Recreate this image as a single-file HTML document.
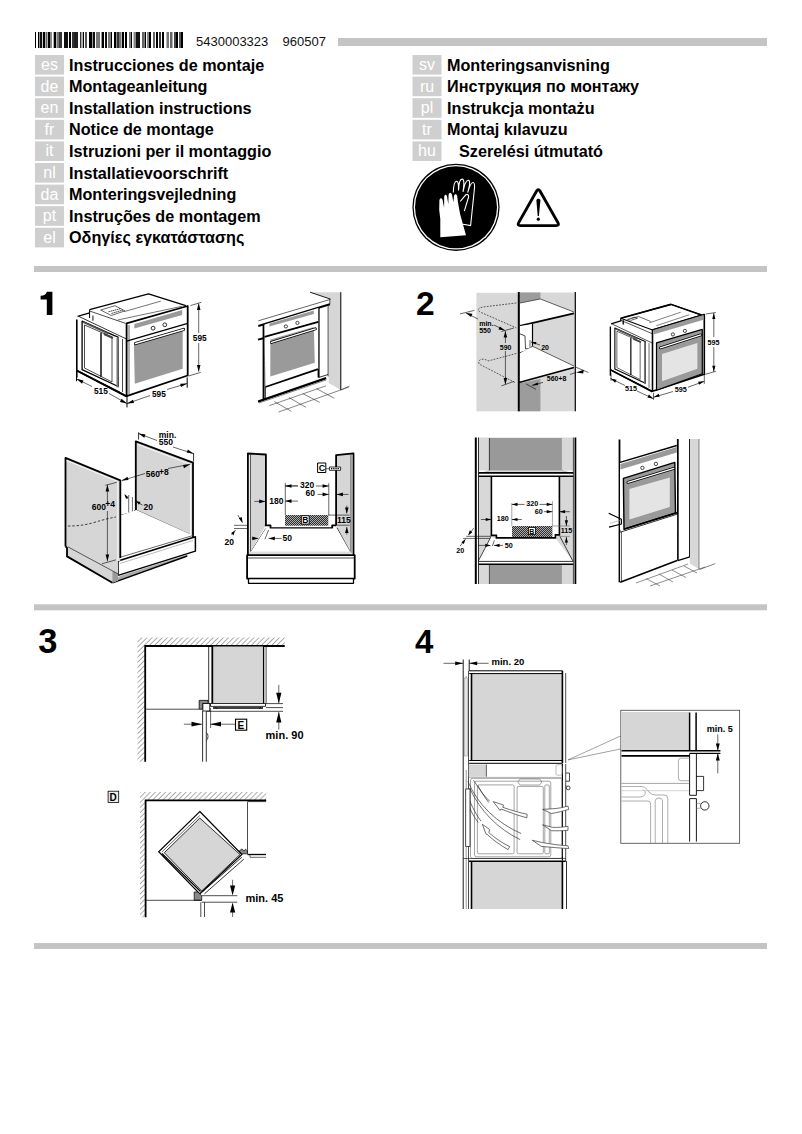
<!DOCTYPE html>
<html><head><meta charset="utf-8"><style>
html,body{margin:0;padding:0;background:#fff;width:802px;height:1134px;overflow:hidden}
svg{display:block} circle{shape-rendering:geometricPrecision}
text{font-family:"Liberation Sans",sans-serif}
.b{font-weight:bold}
</style></head><body>
<svg width="802" height="1134" viewBox="0 0 802 1134">
<defs><pattern id="hatch" width="2" height="2" patternUnits="userSpaceOnUse"><rect width="2" height="2" fill="#aaa"/><path d="M0 2 L2 0 M-0.5 0.5 L0.5 -0.5 M1.5 2.5 L2.5 1.5" stroke="#222" stroke-width="0.9"/></pattern></defs>
<!-- header -->
<rect x="35" y="32" width="1" height="16" fill="#000"/><rect x="38" y="32" width="1.3" height="16" fill="#000"/><rect x="39.8" y="32" width="2.2" height="16" fill="#111"/><rect x="42.8" y="32" width="2.2" height="16" fill="#000"/><rect x="45.5" y="32" width="2.0" height="16" fill="#666"/><rect x="48" y="32" width="2" height="16" fill="#000"/><rect x="50" y="32" width="2" height="16" fill="#888"/><rect x="53.7" y="32" width="2.3" height="16" fill="#000"/><rect x="56.5" y="32" width="2.5" height="16" fill="#777"/><rect x="59" y="32" width="3" height="16" fill="#333"/><rect x="64" y="32" width="4" height="16" fill="#111"/><rect x="69" y="32" width="2" height="16" fill="#000"/><rect x="72" y="32" width="2" height="16" fill="#333"/><rect x="74" y="32" width="4" height="16" fill="#222"/><rect x="80" y="32" width="1.4" height="16" fill="#333"/><rect x="82.7" y="32" width="1.3" height="16" fill="#000"/><rect x="85" y="32" width="2" height="16" fill="#555"/><rect x="89" y="32" width="3" height="16" fill="#000"/><rect x="92.6" y="32" width="2.4" height="16" fill="#111"/><rect x="96" y="32" width="4" height="16" fill="#777"/><rect x="101.6" y="32" width="2.4" height="16" fill="#000"/><rect x="105" y="32" width="2" height="16" fill="#111"/><rect x="108" y="32" width="2" height="16" fill="#777"/><rect x="110.5" y="32" width="1.5" height="16" fill="#000"/><rect x="114" y="32" width="2" height="16" fill="#000"/><rect x="116.5" y="32" width="2.5" height="16" fill="#333"/><rect x="119" y="32" width="2.5" height="16" fill="#777"/><rect x="122" y="32" width="2" height="16" fill="#000"/><rect x="125" y="32" width="2" height="16" fill="#000"/><rect x="129" y="32" width="1" height="16" fill="#777"/><rect x="130.5" y="32" width="1.5" height="16" fill="#000"/><rect x="133.5" y="32" width="2.5" height="16" fill="#888"/><rect x="136" y="32" width="4" height="16" fill="#111"/><rect x="142" y="32" width="2" height="16" fill="#666"/><rect x="144.5" y="32" width="1.5" height="16" fill="#000"/><rect x="147" y="32" width="2" height="16" fill="#888"/><rect x="149" y="32" width="2" height="16" fill="#000"/><rect x="153" y="32" width="2" height="16" fill="#666"/><rect x="156" y="32" width="2" height="16" fill="#000"/><rect x="159" y="32" width="2" height="16" fill="#333"/><rect x="162" y="32" width="2" height="16" fill="#000"/><rect x="166.5" y="32" width="2.5" height="16" fill="#777"/><rect x="170" y="32" width="2.5" height="16" fill="#666"/><rect x="174" y="32" width="2" height="16" fill="#444"/><rect x="176" y="32" width="2" height="16" fill="#000"/><rect x="179" y="32" width="2" height="16" fill="#555"/><rect x="181" y="32" width="2" height="16" fill="#000"/>

<text x="196" y="45.5" font-size="13" fill="#111">5430003323</text>
<text x="282.5" y="45.5" font-size="13" fill="#111">960507</text>
<rect x="338" y="38" width="429" height="8" fill="#c4c4c4"/>
<rect x="35" y="55.0" width="29" height="19.6" fill="#cfcfcf"/>
<text x="49.5" y="70.0" font-size="16" fill="#fff" text-anchor="middle">es</text>
<text class="b" x="69" y="70.6" font-size="16.2">Instrucciones de montaje</text>
<rect x="35" y="76.6" width="29" height="19.6" fill="#cfcfcf"/>
<text x="49.5" y="91.6" font-size="16" fill="#fff" text-anchor="middle">de</text>
<text class="b" x="69" y="92.2" font-size="16.2">Montageanleitung</text>
<rect x="35" y="98.2" width="29" height="19.6" fill="#cfcfcf"/>
<text x="49.5" y="113.2" font-size="16" fill="#fff" text-anchor="middle">en</text>
<text class="b" x="69" y="113.8" font-size="16.2">Installation instructions</text>
<rect x="35" y="119.8" width="29" height="19.6" fill="#cfcfcf"/>
<text x="49.5" y="134.8" font-size="16" fill="#fff" text-anchor="middle">fr</text>
<text class="b" x="69" y="135.4" font-size="16.2">Notice de montage</text>
<rect x="35" y="141.4" width="29" height="19.6" fill="#cfcfcf"/>
<text x="49.5" y="156.4" font-size="16" fill="#fff" text-anchor="middle">it</text>
<text class="b" x="69" y="157.0" font-size="16.2">Istruzioni per il montaggio</text>
<rect x="35" y="163.0" width="29" height="19.6" fill="#cfcfcf"/>
<text x="49.5" y="178.0" font-size="16" fill="#fff" text-anchor="middle">nl</text>
<text class="b" x="69" y="178.6" font-size="16.2">Installatievoorschrift</text>
<rect x="35" y="184.6" width="29" height="19.6" fill="#cfcfcf"/>
<text x="49.5" y="199.6" font-size="16" fill="#fff" text-anchor="middle">da</text>
<text class="b" x="69" y="200.2" font-size="16.2">Monteringsvejledning</text>
<rect x="35" y="206.2" width="29" height="19.6" fill="#cfcfcf"/>
<text x="49.5" y="221.2" font-size="16" fill="#fff" text-anchor="middle">pt</text>
<text class="b" x="69" y="221.8" font-size="16.2">Instruções de montagem</text>
<rect x="35" y="227.8" width="29" height="19.6" fill="#cfcfcf"/>
<text x="49.5" y="242.8" font-size="16" fill="#fff" text-anchor="middle">el</text>
<text class="b" x="69" y="243.4" font-size="16.2">Οδηγίες εγκατάστασης</text>
<rect x="412.5" y="55.0" width="29" height="19.6" fill="#cfcfcf"/>
<text x="427" y="70.0" font-size="16" fill="#fff" text-anchor="middle">sv</text>
<text class="b" x="447" y="70.6" font-size="16.2">Monteringsanvisning</text>
<rect x="412.5" y="76.6" width="29" height="19.6" fill="#cfcfcf"/>
<text x="427" y="91.6" font-size="16" fill="#fff" text-anchor="middle">ru</text>
<text class="b" x="447" y="92.2" font-size="16.2">Инструкция по монтажу</text>
<rect x="412.5" y="98.2" width="29" height="19.6" fill="#cfcfcf"/>
<text x="427" y="113.2" font-size="16" fill="#fff" text-anchor="middle">pl</text>
<text class="b" x="447" y="113.8" font-size="16.2">Instrukcja montażu</text>
<rect x="412.5" y="119.8" width="29" height="19.6" fill="#cfcfcf"/>
<text x="427" y="134.8" font-size="16" fill="#fff" text-anchor="middle">tr</text>
<text class="b" x="447" y="135.4" font-size="16.2">Montaj kılavuzu</text>
<rect x="412.5" y="141.4" width="29" height="19.6" fill="#cfcfcf"/>
<text x="427" y="156.4" font-size="16" fill="#fff" text-anchor="middle">hu</text>
<text class="b" x="459" y="157.0" font-size="16.2">Szerelési útmutató</text>
<circle cx="456" cy="207.3" r="43.6" fill="#000"/>
<circle cx="456" cy="207.3" r="42.3" fill="#fff"/>
<circle cx="456" cy="207.3" r="41.0" fill="#000"/>
<g id="glove">
<path d="M453.3 192.6 C453.5 186 454.5 181.5 456.5 181.3 C458.3 181.2 458.6 184 458.5 190.5 C458.8 183 460 179 462.2 179.1 C464.2 179.2 464.3 183 463 191.9 C464.5 184 466.3 180 468.4 180.2 C470.3 180.5 470 184 467.7 192.6 C469.5 186 471.5 182.3 473.2 182.5 C475 182.8 474.8 186 474.3 190 L470.6 225.5 L462.9 224.3" fill="none" stroke="#fff" stroke-width="1.1"/>
<path d="M460.2 201.5 L465.8 194.8 C467.5 193.8 469 195 468.6 197 L464.3 211.1" fill="none" stroke="#fff" stroke-width="1.1"/>
<path d="M440.3 237.2 L466 235.2 L460.2 214.5 L458.1 202.9 L457.2 196 C456.6 193.5 454.5 193.6 454 196 L453.4 202.2 L452 194.8 C451.2 191.8 449 192 448.6 195 L448.3 204.2 L447 196.5 C446.5 194 444.5 194 444.2 197 L444.1 207.7 L442.6 200 C442 197.6 439.8 197.5 439.4 200.5 L439.2 210 L440.3 219 Z" fill="#fff"/>
</g>
<path d="M539.98 191.06 L557.92 222.64 Q559.60 225.60 556.20 225.60 L520.40 225.60 Q517.00 225.60 518.68 222.64 L536.62 191.06 Q538.30 188.10 539.98 191.06 Z" fill="none" stroke="#000" stroke-width="2.9"/><path d="M536.4 200.5 C536.4 198 540.4 198 540.4 200.5 L538.9 216 L537.7 216 Z" fill="#000"/><circle cx="538.3" cy="219.2" r="1.6"/>
<rect x="34" y="266" width="733" height="6" fill="#c4c4c4"/>
<rect x="34" y="604.3" width="733" height="6" fill="#c4c4c4"/>
<rect x="34" y="943" width="733" height="6" fill="#c4c4c4"/>
<path d="M46.8 291.8 L52.4 291.8 L52.4 314.9 L46.8 314.9 L46.8 299.6 L40.6 299.6 L40.6 295.8 C44 295.6 46.2 294.6 46.8 291.8 Z" fill="#000"/>
<text class="b" x="416" y="315.2" font-size="33.5">2</text>
<text class="b" x="38.3" y="653" font-size="34.5">3</text>
<text class="b" x="415" y="653" font-size="33">4</text><!-- s1a -->
<g id="oven1" stroke="#000" fill="none" stroke-linejoin="round">
<!-- top face -->
<path d="M89.1 309.7 L148.4 293.2 L185.5 305.7 L126.6 323.4 L89.1 312 Z" fill="#fff" stroke="none"/>
<path d="M89.6 309.6 L148.5 293.9 L185.8 305.7" stroke-width="1.3"/>
<path d="M89.6 311 L125.6 323.4" stroke-width="0.7"/>
<path d="M100.7 310 L115 305.7 L124.9 310.9 L111.2 315.5 Z" stroke-width="0.6"/>
<path d="M108.5 311.8 L121 308.5 M111.5 313.5 L123 310" stroke-width="0.8" stroke-dasharray="1.4 0.7"/>
<path d="M124.3 311.6 L160.9 301.1 M117.7 320 L181.9 306.3" stroke-width="0.55"/>
<path d="M89.6 309.6 L89.6 318" stroke-width="1"/>
<path d="M92.9 315.5 L92.9 320.7" stroke-width="1.4" stroke="#555"/>
<!-- side face -->
<path d="M77.6 316.3 L89.6 312.8" stroke-width="1.3"/>
<path d="M79 316.5 L126 338.8" stroke-width="0.8"/>
<path d="M76.8 319.4 L76.8 377.5 M77 370.6 L126.4 396" stroke-width="1.6"/>
<path d="M77 370.6 L126.4 396.5" stroke-width="1.8"/>
<path d="M82.1 321.2 L113.8 335.3 L118 337 L118.2 386.5 L82.1 369.7 Z" stroke-width="1.3"/>
<path d="M84.5 325 L112 337 L112 382 L84.5 368 Z" stroke-width="0.7"/>
<path d="M83 322 L108 333.5" stroke-width="1.8" stroke="#555"/>
<path d="M101 332.7 L101 376.8" stroke-width="1.4"/>
<path d="M104 334 L113 338" stroke-width="2.2" stroke="#444"/>
<path d="M117.5 338 L117.5 387.4" stroke-width="2" stroke="#777"/>
<path d="M122.5 339 L122.5 392" stroke-width="0.7"/>
<path d="M79 372 L120 392" stroke-width="0.6"/>
<!-- front -->
<path d="M126.6 323.4 L187.7 306 L187.7 375.5 L126.6 396.1 Z" fill="#fff" stroke-width="1.8"/>
<path d="M126.6 341.1 L187.7 323.4" stroke-width="1.4"/>
<path d="M134.3 323.9 L182.2 310 L182.2 315 L134.3 328.5 Z" fill="#9a9a9a" stroke="none"/>
<circle cx="153.1" cy="328.2" r="1.9" fill="#fff" stroke-width="0.8"/>
<circle cx="164.8" cy="324.8" r="1.9" fill="#fff" stroke-width="0.8"/>
<path d="M133.9 345 L182.7 331 L182.7 368.8 L134.8 383.8 Z" fill="#9a9a9a" stroke="none"/>
<path d="M135.5 343.5 L183.5 329.5" stroke-width="3.2" stroke-linecap="round"/>
<path d="M135.5 343.5 L183.5 329.5" stroke-width="1.6" stroke="#fff" stroke-linecap="round"/>
<path d="M129 325 L129 394 M129 394" stroke-width="0.6"/>
</g>
<g id="dim1" stroke="#000" fill="#000" stroke-width="0.6">
<path d="M190.5 305.6 L201.3 302.3 M188.6 376 L200.8 372.3" fill="none"/>
<path d="M198.7 303.5 L198.7 333 M198.7 343 L198.7 371.5" fill="none"/>
<path d="M198.7 303.2 L196.9 310 L200.5 310 Z M198.7 371.8 L196.9 365 L200.5 365 Z" stroke="none"/>
<path d="M76.5 370.9 L76.5 381.2 M127 396 L127 407.4 M187.2 377.4 L187.2 387.7" fill="none" stroke-width="1"/>
<path d="M76.5 378.8 L92 386.5 M109 393.5 L127 403.6 M127 403.6 L150 395.5 M167 389.5 L187.2 383.5" fill="none"/>
<path d="M76.5 378.8 L83.5 380.5 L82 383.8 Z M127 403.6 L120 402 L121.5 398.8 Z M127 403.6 L133 399.8 L134 403 Z M187.2 383.5 L181 387 L180.2 383.8 Z" stroke="none"/>
</g>
<text class="b" x="192.8" y="341" font-size="8.3">595</text>
<text class="b" x="94" y="393.8" font-size="8.3">515</text>
<text class="b" x="152" y="396.6" font-size="8.3">595</text>
<!-- s1b -->
<g stroke="#000" fill="none" stroke-linejoin="round">
<!-- wall -->
<path d="M310 292.2 L340.8 292.2 L340.8 390 L328.7 383 L328.7 304.4 L330.5 304.1 L330.5 299.1 Z" fill="#d6d6d6" stroke="none"/>
<path d="M340.8 292.2 L340.8 390" stroke-width="1"/>
<path d="M340.8 390 L349.5 386" stroke-width="0.5"/>
<!-- countertop -->
<path d="M310 292.2 L330.5 299.1 L330.5 304.2 L258.3 326 L258.3 320.8 Z" fill="#fff" stroke="none"/>
<path d="M310 292.2 L330.5 299.1" stroke-width="0.9"/>
<path d="M258.3 320.8 L329.9 299.5" stroke-width="0.6"/>
<path d="M258.3 326 L329.9 304.2" stroke-width="2"/>
<path d="M329.9 299 L329.9 304.2" stroke-width="0.8"/>
<!-- right post -->
<path d="M318.6 307.5 L318.6 377.5" stroke-width="2"/>
<path d="M328.1 304.2 L328.1 376.5" stroke-width="0.7"/>
<path d="M318.6 377.5 L328.1 374.5" stroke-width="0.8"/>
<!-- left post -->
<path d="M263.6 325 L263.6 400" stroke-width="2"/>
<path d="M265.5 337 L265.5 399" stroke-width="0.7"/>
<path d="M258 339.6 L264.5 338" stroke-width="2"/>
<!-- oven front -->
<path d="M264.5 324.4 L318.3 308 L318.3 369.2 L265.4 387" fill="#fff" stroke="none"/>
<path d="M269.5 323.4 L313.8 310.4 L313.8 313.9 L269.5 326.6 Z" fill="#9a9a9a" stroke="none"/>
<path d="M264.5 336.9 L318.3 321.9" stroke-width="1.8"/>
<circle cx="285.9" cy="326.4" r="1.6" fill="#fff" stroke-width="0.7"/>
<circle cx="297.4" cy="322.9" r="1.6" fill="#fff" stroke-width="0.7"/>
<path d="M270.3 339.5 L313.8 327 L314.8 362.7 L270.3 376.5 Z" fill="#9a9a9a" stroke="none"/>
<path d="M271.4 342.4 L315.3 328.9" stroke-width="3" stroke-linecap="round"/>
<path d="M271.4 342.4 L315.3 328.9" stroke-width="1.4" stroke="#fff" stroke-linecap="round"/>
<path d="M265.4 387 L318 369.2" stroke-width="1.8"/>
<path d="M258.1 401.6 L326.2 378.1" stroke-width="2.2"/>
<path d="M259 403 L326 380" stroke-width="1" stroke="#888"/>
<!-- floor tiles -->
<g stroke-width="0.6" stroke="#333">
<path d="M269.4 405.6 L326 385.8 M278.4 412.1 L349 387"/>
<path d="M274.3 401.6 L291.3 411.3 M288.9 397.5 L305.9 407.3 M302.7 393.5 L319.7 402.4 M316.5 388.6 L334.3 398.3"/>
</g>
</g>
<!-- s1c -->
<g stroke="#000" fill="none" stroke-linejoin="round">
<!-- right panel -->
<path d="M135.8 441.3 L193 462.6 L193 536.5 L189.8 534.3 L136.2 510 L135.8 510 Z" fill="#d6d6d6" stroke="none"/>
<path d="M135.8 510 L135.8 441.3 L193 462.6 L193 537" stroke-width="1.8"/>
<path d="M138 444.5 L190.5 464.5 L190.5 534" stroke="#fff" stroke-width="0.8"/>
<path d="M136.2 510 L189.8 534.3" stroke-width="0.6"/>
<!-- back opening notch -->
<path d="M120.6 515.6 L132.4 512.4 L135.8 510" stroke-width="1.2"/>
<path d="M128.7 495 L128.7 512.5 M132.4 497 L132.4 512.4" stroke-width="0.6"/>
<path d="M135.8 500 L135.8 510" stroke-width="1.5"/>
<path d="M125 495 L127.5 498.7" stroke-width="0.8"/>
<path d="M124.5 494 L128.3 497.3 L126 499 Z" fill="#000" stroke="none"/>
<!-- floor -->
<path d="M120 515.6 L136.2 510 L193 535.5 L120 557.3 Z" fill="#fff" stroke="none"/>
<path d="M120 557.3 L193 535.5" stroke-width="0.6"/>
<path d="M120.5 560 L193 538.5" stroke-width="1.4" stroke="#888" stroke-dasharray="1.2 1"/>
<!-- plinth -->
<path d="M120 576 L187.3 554.8 L187.3 556 L112.5 582.9 Z" fill="#aaa" stroke="none"/>
<path d="M112.5 582.9 L187.3 556" stroke-width="1.4"/>
<path d="M118.1 561 L195.4 536.8 L195.4 551.1 L118.1 575.4 Z" fill="#fff" stroke-width="1.5"/>
<path d="M120 563.5 L193 540.5" stroke-width="0.5" stroke="#777"/>
<!-- left panel -->
<path d="M65.5 457.9 L120.3 480.3 L120.3 561 L118.1 561 L118.1 580.5 L112.4 582.8 L67 556.4 L67 547.9 L65.5 546.4 Z" fill="#d6d6d6" stroke="none"/>
<path d="M112.4 571 L118.1 574 L118.1 580.5 L112.4 582.8 Z" fill="#9a9a9a" stroke="none"/>
<path d="M65.5 546.4 L65.5 457.9 L120.3 480.3 L120.3 558" stroke-width="1.8"/>
<path d="M66.5 460.5 L117.8 481.5 L117.8 561" stroke="#fff" stroke-width="0.8"/>
<path d="M65.5 546.4 L67 547.9 L67 556.4 L112.4 582.8" stroke-width="1.8"/>
<path d="M68 546.9 L112.4 570.8 L118 573.8" stroke-width="0.6"/>
<path d="M68 526 C76 526 84 525.5 94 522.5 C104 519.5 110 518 116 517" stroke-width="0.7" stroke-dasharray="2.5 1.8"/>
<!-- dims -->
<g stroke-width="0.6">
<path d="M138.6 432.3 L138.6 439.6 M193.6 453.1 L193.6 461.5" stroke-width="0.8"/>
<path d="M138.6 433.5 L157 440.5 M173 447 L193.6 453.7"/>
<path d="M121.7 480.6 L145 473.5 M168 468.5 L190.2 464.3"/>
<path d="M107.4 484.8 L107.4 503 M107.4 511 L107.4 561.3"/>
<path d="M105.4 485.3 L116.8 482.3 M101.9 563.8 L115.8 559.9"/>
<path d="M136.2 501.8 L142.5 505"/>
</g>
<g fill="#000" stroke="none">
<path d="M138.6 433.5 L145.5 434.5 L144.3 437.8 Z M193.6 453.7 L186.7 452.6 L187.9 449.4 Z"/>
<path d="M121.7 480.6 L127.5 476.8 L128.5 480 Z M190.2 464.3 L184 468.2 L183 465 Z"/>
<path d="M107.4 484.8 L105.6 491.5 L109.2 491.5 Z M107.4 561.3 L105.6 554.5 L109.2 554.5 Z"/>
<path d="M136 501 L140.5 502 L139 504.8 Z"/>
</g>
</g>
<text class="b" x="158.8" y="438.2" font-size="8.5">min.</text>
<text class="b" x="158.8" y="444.8" font-size="8.5">550</text>
<text class="b" x="145.8" y="476.8" font-size="8.5">560</text>
<text class="b" x="159" y="475" font-size="8.5">+8</text>
<text class="b" x="91.8" y="510.2" font-size="8.5">600</text>
<text class="b" x="105.2" y="506.5" font-size="8.5">+4</text>
<text class="b" x="143.6" y="510.2" font-size="8.5">20</text>
<!-- s1d -->
<g stroke="#000" fill="none" stroke-linejoin="round">
<!-- left panel -->
<path d="M250.6 454.5 L265.9 455 L265.9 525.3 L250.6 551 Z" fill="#d6d6d6" stroke="none"/>
<path d="M247.9 555 L247.9 453.5 L265.9 454.5 L265.9 525.3" stroke-width="1.8"/>
<path d="M250.4 454.5 L250.4 553" stroke-width="0.9" stroke="#333"/>
<!-- right panel -->
<path d="M336.1 455.1 L350.8 453.6 L350.8 552 L336.9 528.1 L336.1 525 Z" fill="#d6d6d6" stroke="none"/>
<path d="M336.1 525.3 L336.1 455.1 L353.5 453.4 L353.5 555" stroke-width="1.8"/>
<path d="M351 453.8 L351 553" stroke-width="0.9" stroke="#333"/>
<!-- floor cavity -->
<path d="M264.9 525.3 L270.5 525.3 L270.5 528.1 L332.2 528.1 L332.2 525.3 L336.1 525.3" stroke-width="1.8"/>
<path d="M249.9 553.3 L265.8 528.5 M350.9 553.3 L336.9 527.8" stroke-width="0.8"/>
<path d="M265.8 528.5 L336.9 528.5 L350.9 553.3 L249.9 553.3 Z" fill="#fff" stroke="none"/>
<path d="M249.9 551.5 L351 551.5 L351 555 L249.9 555 Z" fill="#ddd" stroke="none"/>
<!-- plinth -->
<path d="M247.1 555.2 L354.7 555.2 L354.7 578.6 L247.1 578.6 Z" fill="#fff" stroke-width="1.8"/>
<path d="M248 558 L354 558" stroke-width="0.7"/>
<path d="M248.5 578.6 L353.5 578.6 L353.5 583.3 L248.5 583.3 Z" fill="#fff" stroke-width="1.3"/>
<!-- hatched block -->
<path d="M285 515.1 L328.3 515.1 L328.3 525.8 L285 525.8 Z" fill="url(#hatch)" stroke="none"/>
<path d="M301.3 515.7 L309.2 515.7 L309.2 524.1 L301.3 524.1 Z" fill="#fff" stroke-width="0.9"/>
<!-- C connector -->
<path d="M317.6 463 L325.8 463 L325.8 472.5 L317.6 472.5 Z" fill="#fff" stroke-width="1"/>
<path d="M329.4 467 L340.6 467 L340.6 470.3 L329.4 470.3 Z" fill="#fff" stroke-width="0.8"/>
<path d="M331 468.6 L339 468.6" stroke-width="1.4" stroke-dasharray="1.3 0.9"/>
<path d="M325.8 468.6 L329.4 468.6" stroke-width="0.5"/>
<!-- dims -->
<g stroke-width="0.6">
<path d="M285.3 482.9 L285.3 515 M328.8 483.2 L328.8 515.1"/>
<path d="M285.3 486 L298 486 M316 486 L328.8 486"/>
<path d="M317.6 494.4 L328.8 494.4 M336.7 494.4 L348.5 494.4"/>
<path d="M285.3 501.1 L298 501.1 M254.4 501.4 L265.4 501.4 M285.3 485.9 L297.8 485.9"/>
<path d="M328.3 515.1 L349.6 515.1 M336 525.2 L349.6 525.2"/>
<path d="M346.8 505.6 L346.8 513.5 M346.8 527 L346.8 534.6"/>
<path d="M234 525.3 L247.1 525.3 M234 528.5 L247.1 528.5"/>
<path d="M237.8 515 L242.4 522.5 M231.2 534.6 L235.9 530"/>
<path d="M281.7 538.4 L268.6 538.4 M264.9 539.3 L268.6 530 M251.8 538.4 L258.3 538.4"/>
</g>
<g fill="#000" stroke="none">
<path d="M285.3 486 L291.5 484.2 L291.5 487.8 Z M328.8 486 L322.6 484.2 L322.6 487.8 Z"/>
<path d="M328.8 494.4 L322.6 492.6 L322.6 496.2 Z M336.7 494.4 L342.9 492.6 L342.9 496.2 Z"/>
<path d="M285.3 501.1 L291.5 499.3 L291.5 502.9 Z M265.4 501.4 L259.2 499.6 L259.2 503.2 Z"/>
<path d="M346.8 513.5 L345 507.5 L348.6 507.5 Z M346.8 527 L345 533 L348.6 533 Z"/>
<path d="M242.6 523 L238.8 518.2 L241.8 517 Z M235 530.5 L233.5 535.5 L231.2 533 Z"/>
<path d="M268.8 538.4 L274.8 536.6 L274.8 540.2 Z M258.3 538.4 L252.3 536.6 L252.3 540.2 Z"/>
</g>
</g>
<text class="b" x="269.2" y="504" font-size="8.5">180</text>
<text class="b" x="300" y="488.3" font-size="8.5">320</text>
<text class="b" x="305.6" y="496.2" font-size="8.5">60</text>
<text class="b" x="337" y="523.2" font-size="8.5">115</text>
<text class="b" x="224.5" y="545" font-size="8.5">20</text>
<text class="b" x="282.5" y="541.3" font-size="8.5">50</text>
<text class="b" x="302.2" y="523.2" font-size="8.5">B</text>
<text class="b" x="318.8" y="471.2" font-size="9">C</text>
<!-- s2a -->
<g stroke="#000" fill="none" stroke-linejoin="round">
<!-- left grey panel -->
<rect x="476.4" y="292.8" width="42.4" height="118.5" fill="#d8d8d8" stroke="none"/>
<!-- right cavity background -->
<rect x="519" y="292.5" width="56.3" height="118.8" fill="#d8d8d8" stroke="none"/>
<path d="M520 292.5 L540.4 292.5 L540.4 299 L520 303 Z" fill="#9c9c9c" stroke="none"/>
<path d="M520 383 L540.4 379 L540.4 411.3 L520 411.3 Z" fill="#9c9c9c" stroke="none"/>
<!-- upper shelf -->
<path d="M540.4 299 L573.9 312 L573.9 313.4 L520 325.9 L520 303 Z" fill="#fff" stroke="none"/>
<path d="M520 303 L540.4 299 L573.9 312" stroke-width="0.6"/>
<path d="M520 325.9 L573.9 313.4" stroke-width="1.6"/>
<!-- between shelves -->
<path d="M520 325.9 L532.5 323.9 L532.5 345.8 L520 352.8 Z" fill="#fff" stroke="none"/>
<path d="M532.5 323.9 L532.5 345.8" stroke-width="1.2"/>
<path d="M520 333.9 L525 335.9 L525.5 348.8 L530 348.8" stroke-width="0.7"/>
<path d="M520 352.8 L530 349.8 L532.5 346" stroke-width="1.2"/>
<path d="M530 340 L530 348" stroke-width="0.6"/>
<!-- lower shelf -->
<path d="M520 353 L533 346.5 L573.9 366 L573.9 367.4 L519 382.4 Z" fill="#fff" stroke="none"/>
<path d="M533 346.5 L573.9 366" stroke-width="0.6"/>
<path d="M519 382.4 L573.9 367.4" stroke-width="1.6"/>
<!-- verticals -->
<path d="M518.8 292 L518.8 411.3" stroke-width="2"/>
<path d="M575.3 292 L575.3 411.3" stroke-width="1.2"/>
<!-- dashed shelf outlines -->
<g stroke-width="0.6" stroke-dasharray="1.8 1.3">
<path d="M516.3 303 L483 307 C478 308 477 310 480 312 L516.3 327.9"/>
<path d="M516.3 353.5 L488 361 C484 358 479 359 478.6 362 C478.8 364 480 364.5 481 365 L515.8 382.9"/>
</g>
<!-- dims -->
<g stroke-width="0.6">
<path d="M460 313.9 L474.5 310.4 M466 313 L478 319 M494 325 L504.9 330.4 M501.4 331.5 L513.9 328"/>
<path d="M505.4 331 L505.4 343 M505.4 351 L505.4 384.4 M501.4 385.9 L513.9 381.4"/>
<path d="M531 341.9 L540 345 M532 385.4 L543 382.4 M526 383.9 L536 389.4"/>
<path d="M575.5 367 L588.4 372.5 M570 374.5 L576 372.5"/>
</g>
<g fill="#000" stroke="none">
<path d="M466 313 L472.5 313.8 L471 317 Z M504.9 330.4 L498.4 329.6 L499.9 326.4 Z"/>
<path d="M505.4 331 L503.6 337.5 L507.2 337.5 Z M505.4 384.4 L503.6 377.9 L507.2 377.9 Z"/>
<path d="M531 341.9 L536.5 342 L535.5 344.5 Z M532 385.4 L537.5 382.5 L538.2 385 Z M576 372.5 L583.8 369.8 L583.2 373.4 Z"/>
</g>
</g>
<text class="b" x="479.2" y="326" font-size="7">min.</text>
<text class="b" x="479.2" y="333" font-size="7">550</text>
<text class="b" x="499.8" y="349.9" font-size="7">590</text>
<text class="b" x="541.2" y="349.9" font-size="7">20</text>
<text class="b" x="546.8" y="381" font-size="7">560+8</text>
<!-- s2b -->
<g transform="matrix(0.846 0 0 0.846 545.4 56.3)" stroke="#000" fill="none" stroke-linejoin="round">
<!-- top face -->
<path d="M89.1 309.7 L148.4 293.2 L184.5 305.8 L126.6 323.4 Z" fill="#fff" stroke-width="1.3"/>
<path d="M89.1 309.7 L148.4 293.2" stroke-width="2"/>
<path d="M148.4 293.2 L184.5 305.8" stroke-width="1.6"/>
<!-- top face details -->
<path d="M101.5 310 L110 307.5 L124.5 313.5" stroke-width="0.7"/>
<path d="M97 311 L105 308.5 L109 309.5 L101.5 312 Z" stroke-width="0.7"/>
<path d="M123 315 L160 302.5 M131 318.5 L170 305.5" stroke-width="0.6"/>
<path d="M89.1 312 L126.6 328" stroke-width="0.8"/>
<path d="M92 312 L92 317" stroke-width="1.6"/>
<!-- side face -->
<path d="M77.6 316.3 L89.1 312.8 L89.1 309.7" stroke-width="1.5"/>
<path d="M79 316.5 L126 338.8" stroke-width="0.8"/>
<path d="M76.8 319.4 L76.8 377.5 M77 370.6 L126.4 396" stroke-width="1.6"/>
<path d="M77 370.6 L126.4 396.5" stroke-width="1.8"/>
<path d="M82.1 321.2 L113.8 335.3 L118 337 L118.2 386.5 L82.1 369.7 Z" stroke-width="1.3"/>
<path d="M84.5 325 L112 337 L112 382 L84.5 368 Z" stroke-width="0.7"/>
<path d="M83 322 L108 333.5" stroke-width="1.8" stroke="#555"/>
<path d="M101 332.7 L101 376.8" stroke-width="1.4"/>
<path d="M104 334 L113 338" stroke-width="2.2" stroke="#444"/>
<path d="M117.5 338 L117.5 387.4" stroke-width="2" stroke="#777"/>
<path d="M122.5 339 L122.5 392" stroke-width="0.7"/>
<path d="M79 372 L120 392" stroke-width="0.6"/>
</g>
<g stroke="#000" fill="none" stroke-linejoin="round">
<path d="M652.5 329.9 L704.3 314.5 L704.3 374.3 L652.5 391.3 Z" fill="#fff" stroke-width="1.6"/>
<path d="M653.5 330 L703.5 315 L703.5 319.8 L653.5 334.5 Z" fill="#9a9a9a" stroke="none"/>
<circle cx="672.9" cy="334.4" r="1.6" fill="#fff" stroke-width="0.7"/>
<circle cx="684.9" cy="330.9" r="1.6" fill="#fff" stroke-width="0.7"/>
<path d="M656.5 342.9 L702.3 329.4 L702.3 373.8 L656.5 390.3 Z" fill="#9a9a9a" stroke-width="1.2"/>
<path d="M662 353.9 L697.4 342.9 L697.4 368.8 L662 381.3 Z" fill="#e4e4e4" stroke="none"/>
<path d="M660.4 347.9 L700.8 334.9" stroke-width="2.8" stroke-linecap="round"/>
<path d="M660.4 347.9 L700.8 334.9" stroke-width="1.2" stroke="#fff" stroke-linecap="round"/>
</g>
<g stroke="#000" fill="#000" stroke-width="0.6">
<path d="M705.8 314 L715.8 312.5 M705.3 374.3 L715.8 371.3 M704.3 374.8 L704.3 383.8 M653.5 392.8 L653.5 399.8 M611 373 L611 381" fill="none"/>
<path d="M713.8 313 L713.8 337 M713.8 347 L713.8 371.8 M653.5 397.3 L673 391.5 M688 387.2 L704.3 381.3 M610.5 378.5 L625 385.5 M637 391 L653.5 398.7" fill="none"/>
<path d="M713.8 313 L712.2 319 L715.4 319 Z M713.8 371.8 L712.2 365.8 L715.4 365.8 Z M653.5 397.3 L658.8 393.8 L659.6 396.8 Z M704.3 381.3 L699 384.8 L698.2 381.8 Z M610.5 378.5 L616.5 379.8 L615.2 382.7 Z M653.5 398.7 L647.5 397.5 L648.8 394.6 Z" stroke="none"/>
</g>
<text class="b" x="707.6" y="345" font-size="7.2">595</text>
<text class="b" x="674.8" y="391.9" font-size="7.2">595</text>
<text class="b" x="625" y="390.6" font-size="7.2">515</text>
<!-- s2c -->
<g stroke="#000" fill="none" stroke-linejoin="miter">
<!-- top compartment -->
<rect x="478.5" y="437.5" width="94.8" height="35" fill="#d8d8d8" stroke="none"/>
<rect x="489.4" y="438" width="72.5" height="32.4" fill="#999" stroke="none"/>
<path d="M489.4 438 L489.4 470.4" stroke-width="0.7"/>
<path d="M480 472.9 L489.4 470.4 M562 470.4 L572 472.9" stroke-width="0.5" stroke="#777"/>
<path d="M478.5 470.4 L489.4 470.4 L480 472.9 Z M561.9 470.4 L573.3 470.4 L573.3 472.9 Z" fill="#fff" stroke="none"/>
<path d="M478.5 472.9 L573.3 472.9" stroke-width="1.6"/>
<path d="M478.5 476.4 L573.3 476.4" stroke-width="1.6"/>
<!-- middle compartment -->
<rect x="478.5" y="477" width="94.8" height="84.4" fill="#d8d8d8" stroke="none"/>
<path d="M491.4 477 L559.4 477 L559.4 534.9 L555.4 534.9 L555.4 537.9 L572.8 560.9 L478.4 560.9 L490.9 536.9 L496.4 537.9 L496.4 535.4 L491.4 535.4 Z" fill="#fff" stroke="none"/>
<path d="M491.4 476.5 L491.4 535.4 L496.4 535.4 L496.4 537.9 L555.4 537.9 L555.4 534.9 L559.4 534.9 L559.4 476.5" stroke-width="1.6"/>
<path d="M478.4 560.9 L490.9 536.9 M559.9 536.4 L572.8 560.9" stroke-width="0.7"/>
<path d="M478.5 561.4 L573.3 561.4" stroke-width="0.8"/>
<path d="M478.5 564.4 L573.3 564.4" stroke-width="1.6"/>
<!-- hatched -->
<rect x="512" y="526" width="40.4" height="11" fill="url(#hatch)" stroke="none"/>
<rect x="528.5" y="527.4" width="6.9" height="7" fill="#fff" stroke-width="0.8"/>
<!-- bottom compartment -->
<rect x="478.5" y="565" width="94.8" height="19" fill="#d8d8d8" stroke="none"/>
<rect x="489.4" y="565" width="72.5" height="19" fill="#999" stroke="none"/>
<path d="M489.4 565 L489.4 584" stroke-width="0.6"/>
<!-- outer -->
<path d="M475.8 437.5 L475.8 584" stroke-width="2"/>
<path d="M478.5 437.5 L478.5 584" stroke-width="0.8"/>
<path d="M575.4 437.5 L575.4 584" stroke-width="1.8"/>
<path d="M573.4 437.5 L573.4 584" stroke-width="0.7"/>
<!-- dims -->
<g stroke-width="0.6">
<path d="M511.8 503 L511.8 526 M552.4 501 L552.4 526 M552.4 526 L569.9 526 M559.9 536.4 L569.9 536.4" stroke="#666"/>
<path d="M511.8 504.4 L524.5 504.4 M539.5 504.4 L552.4 504.4 M543.9 511.7 L552.4 511.7 M559.4 511.7 L569.9 511.7"/>
<path d="M480.9 519.5 L491.4 519.5 M511.8 519.5 L521.8 519.5 M566.4 516 L566.4 526 M566.4 537 L566.4 545"/>
<path d="M466.2 536.3 L491 536.3 M463.1 538.4 L490 538.4 M473.7 528.1 L469 534.5 M460 546.2 L465 539.8"/>
<path d="M478.4 545.4 L485.4 545.4 M493.9 545.4 L503 545.4 M492.4 545.9 L494.4 540.4"/>
</g>
<g fill="#000" stroke="none">
<path d="M511.8 504.4 L517.5 502.8 L517.5 506 Z M552.4 504.4 L546.7 502.8 L546.7 506 Z"/>
<path d="M552.4 511.7 L546.7 510.1 L546.7 513.3 Z M559.4 511.7 L565.1 510.1 L565.1 513.3 Z"/>
<path d="M491.4 519.5 L485.7 517.9 L485.7 521.1 Z M511.8 519.5 L517.5 517.9 L517.5 521.1 Z"/>
<path d="M566.4 526 L564.8 520.3 L568 520.3 Z M566.4 536.9 L564.8 542.6 L568 542.6 Z"/>
<path d="M468.1 535.5 L469.8 530.2 L472.3 532.2 Z M465.8 538.8 L463.8 544 L461.4 542.2 Z"/>
<path d="M491 545.4 L485.3 543.8 L485.3 547 Z M493.9 545.4 L499.6 543.8 L499.6 547 Z"/>
</g>
</g>
<text class="b" x="526.2" y="506" font-size="7.2">320</text>
<text class="b" x="534.7" y="514" font-size="7.2">60</text>
<text class="b" x="496.7" y="521.1" font-size="7.2">180</text>
<text class="b" x="560.7" y="533.1" font-size="7.2">115</text>
<text class="b" x="529.3" y="533.8" font-size="7">B</text>
<text class="b" x="456.3" y="553" font-size="7.2">20</text>
<text class="b" x="504.7" y="548" font-size="7.2">50</text>
<!-- s2d -->
<g stroke="#000" fill="none" stroke-linejoin="round">
<!-- wall -->
<path d="M689.9 439 L699.6 439 L699.6 569.5 L689.9 563.5 Z" fill="#d8d8d8" stroke="none"/>
<rect x="698" y="439" width="1.6" height="130" fill="#aaa" stroke="none"/>
<path d="M689.5 439 L689.5 557" stroke-width="0.9"/>
<path d="M699.6 569.5 L715.2 563.6" stroke-width="0.5"/>
<!-- cabinet lines -->
<path d="M619.5 439.5 L619.5 582.3" stroke-width="1.8"/>
<path d="M677.8 439 L677.8 560.6" stroke-width="1.8"/>
<path d="M677.8 560.6 L689.8 556.9" stroke-width="1.2"/>
<!-- oven front -->
<path d="M620 462.4 L676.8 445.5 L676.8 512.7 L620 530" fill="#fff" stroke="none"/>
<path d="M620.4 463.9 L676.8 447 L676.8 452.4 L620.4 469.4 Z" fill="#9a9a9a" stroke="none"/>
<path d="M620 462.4 L676.8 445.5" stroke-width="1.5"/>
<circle cx="642.4" cy="467.9" r="1.7" fill="#fff" stroke-width="0.7"/>
<circle cx="655.9" cy="463.9" r="1.7" fill="#fff" stroke-width="0.7"/>
<path d="M623.4 478.4 L674.8 462.4 L675.5 512.9 L624 529.2 Z" fill="#9a9a9a" stroke-width="1.4"/>
<path d="M629.4 488.9 L669.8 477.4 L669.8 507 L629.4 519.5 Z" fill="#e4e4e4" stroke="none"/>
<path d="M627.9 482.4 L673.8 468.4" stroke-width="2.8" stroke-linecap="round"/>
<path d="M627.9 482.4 L673.8 468.4" stroke-width="1.2" stroke="#fff" stroke-linecap="round"/>
<!-- drawer front -->
<path d="M620.2 532.2 L677.1 514.2 L677.1 560.6 L620.2 582.3 Z" fill="#fff" stroke="none"/>
<path d="M624 529.2 L677.1 512.7" stroke-width="1.6"/>
<path d="M620.2 532.2 L677.1 514.2" stroke-width="0.8"/>
<path d="M620.2 582.3 L677.1 560.6" stroke-width="1.6"/>
<path d="M621.5 532 L621.5 582" stroke-width="0.6"/>
<!-- counter sticking out -->
<path d="M608.7 513.2 L621.4 519.2 L621.4 524 L609 527.2" stroke-width="1.2"/>
<path d="M610 523.4 L621.4 520" stroke-width="0.6" stroke="#999"/>
<!-- floor tiles -->
<g stroke-width="0.55" stroke="#333">
<path d="M636 583 L688 564 M650 586 L705 567"/>
<path d="M646 578.5 L660 586 M659 574 L673 582 M672 570 L686 577.5 M684 566 L697 573"/>
</g>
</g>
<!-- s3 -->
<defs>
<pattern id="whatch" width="3.6" height="3.6" patternUnits="userSpaceOnUse" patternTransform="rotate(45)">
<rect width="3.6" height="3.6" fill="#fff"/>
<rect x="0" y="0" width="0.8" height="3.6" fill="#999"/>
</pattern>
</defs>
<g stroke="#000" fill="none">
<!-- top plan: wall -->
<path d="M137.5 637.5 L284.8 637.5 L284.8 646 L145.2 646 L145.2 761.7 L137.5 761.7 Z" fill="url(#whatch)" stroke="none"/>
<path d="M145.2 761.7 L145.2 646 L284.8 646" stroke-width="1.8"/>
<!-- oven in plan -->
<rect x="213" y="646.5" width="50" height="57" fill="#d6d6d6" stroke="none"/>
<path d="M208.7 646 L208.7 703.6" stroke-width="0.8"/>
<path d="M212.3 646 L212.3 703.6" stroke-width="1.8"/>
<path d="M263.6 646 L263.6 703.6" stroke-width="1.3"/>
<path d="M266.1 646 L266.1 703.6" stroke-width="0.7"/>
<rect x="210.6" y="703.6" width="54.9" height="2.7" fill="#fff" stroke-width="0.8"/>
<path d="M213 708 L263 708" stroke-width="1.4"/>
<path d="M215 707 L217 709 M261 707 L259 709" stroke-width="0.7"/>
<path d="M266 703.6 L283 703.6 M266 707.6 L283 707.6" stroke-width="0.7"/>
<path d="M145.2 709.2 L199.2 709.2" stroke-width="0.7"/>
<path d="M207 711.3 L283 711.3" stroke-width="0.7"/>
<path d="M199.2 700.4 L208 700.4 L208 703.6 L202.9 703.6 L202.9 709.2 L199.2 709.2 Z" fill="#888" stroke-width="0.8"/>
<rect x="202.9" y="703.6" width="6.9" height="7.4" fill="#fff" stroke-width="0.8"/>
<path d="M202.6 711 L202.6 761.7 M206.3 711 L206.3 761.7" stroke-width="0.8"/>
<path d="M206.3 732.5 A2 4 0 0 1 206.3 740.4" stroke-width="0.7"/>
<path d="M210.6 708 L210.6 728" stroke-width="0.6"/>
<g stroke-width="0.6">
<path d="M183.9 724.2 L201.8 724.2 M210.3 724.2 L235.5 724.2 M278.8 684.9 L278.8 703 M278.8 712.3 L278.8 729.7"/>
</g>
<g fill="#000" stroke="none">
<path d="M202.2 724.2 L191.5 721.8 L191.5 726.6 Z M210.3 724.2 L221 721.8 L221 726.6 Z M278.8 703.4 L276.2 692.8 L281.4 692.8 Z M278.8 711.8 L276.2 722.4 L281.4 722.4 Z"/>
</g>
<rect x="235.5" y="719.2" width="11.2" height="11" fill="#fff" stroke-width="1.1"/>
<!-- bottom plan D -->
<path d="M140 791.9 L266.2 791.9 L266.2 800.3 L145.6 800.3 L145.6 917.2 L140 917.2 Z" fill="url(#whatch)" stroke="none"/>
<path d="M145.6 917.2 L145.6 800.3 L266.2 800.3" stroke-width="1.8"/>
<path d="M247.5 802 L247.5 853.6 M247.5 801.6 L266 801.6" stroke-width="0.7"/>
<path d="M247.5 854.5 L266 854.5" stroke-width="1.3"/>
<path d="M250 857.3 L266 857.3 M250 854.5 L250 857.3" stroke-width="0.6"/>
<path d="M239.1 851 L242 848.9 L244 851 L245.5 849.3 L247.5 851 L247.5 853.8 L241.5 853.8 Z" fill="#888" stroke-width="0.7"/>
<!-- rotated oven -->
<path d="M199.8 811.5 L241.9 854.5 L199.8 893.8 L158.7 851.7 Z" fill="#fff" stroke-width="1.2"/>
<path d="M199.8 818.1 L240 854.5 L201.7 891 L164.3 852.7 Z" fill="#d6d6d6" stroke-width="0.8"/>
<path d="M199.8 815.5 L161.8 852" stroke-width="0.6"/>
<path d="M204.5 893.8 L243.8 859.2 M202.5 891.8 L241.8 857.2" stroke-width="0.8"/>
<path d="M162 853.5 L200.5 891.5" stroke-width="1.2"/>
<path d="M194.2 892 L198 892 L201.7 896 L201.7 900.3 L194.2 900.3 Z" fill="#888" stroke-width="0.7"/>
<path d="M145.6 900.3 L201.7 900.3" stroke-width="0.7"/>
<path d="M201.7 895.7 L237.3 895.7 M201.7 902.2 L237.3 902.2" stroke-width="0.7"/>
<path d="M200.8 902.2 L200.8 917 M204.5 902.2 L204.5 917" stroke-width="0.7"/>
<path d="M232.6 879.8 L232.6 893.8 M232.6 904 L232.6 917" stroke-width="0.6"/>
<path d="M232.6 895.4 L230 885.5 L235.2 885.5 Z M232.6 902.5 L230 912.4 L235.2 912.4 Z" fill="#000" stroke="none"/>
<rect x="108.1" y="791.2" width="10.6" height="11.2" fill="#eee" stroke-width="0.8"/>
</g>
<text class="b" x="237.4" y="728.6" font-size="10">E</text>
<text class="b" x="265.6" y="739.4" font-size="11">min. 90</text>
<text class="b" x="109.6" y="801" font-size="10">D</text>
<text class="b" x="245.5" y="902.3" font-size="11">min. 45</text>
<!-- s4 -->
<g stroke="#000" fill="none">
<!-- side panel lines -->
<path d="M463.2 659.5 L463.2 909 M469.2 659.5 L469.2 671" stroke-width="0.9"/>
<path d="M466.2 676 L466.2 755 M466.2 770 L466.2 909" stroke-width="0.6" stroke="#555"/>
<rect x="464.5" y="678" width="2.8" height="78" fill="#e6e6e6" stroke="#888" stroke-width="0.5"/>
<path d="M468.5 671 L468.5 909" stroke-width="0.7"/>
<!-- upper cabinet -->
<rect x="471.5" y="673.2" width="90.9" height="87.5" fill="#d6d6d6" stroke="none"/>
<path d="M469.2 670.8 L562.7 670.8 M469.2 673.6 L562.7 673.6" stroke-width="1"/>
<path d="M471.5 673 L471.5 761 M562.4 671 L562.4 763" stroke-width="1.6"/>
<path d="M565.7 673 L565.7 763" stroke-width="0.7"/>
<path d="M469.2 760.5 L562.7 760.5 M469.2 763.3 L562.7 763.3" stroke-width="1"/>
<!-- oven compartment -->
<rect x="468.8" y="764.5" width="17.6" height="12.2" fill="#d6d6d6" stroke="none"/>
<path d="M486.4 764.5 L486.4 776.7" stroke-width="0.6"/>
<path d="M562.4 764 L562.4 860.5" stroke-width="1.2"/>
<path d="M565.7 764 L565.7 861" stroke-width="0.7"/>
<rect x="556" y="764.7" width="6.4" height="10.5" rx="1.8" stroke-width="0.5" stroke="#777"/>
<path d="M469 777.4 L562 777.4" stroke-width="0.5" stroke="#777"/>
<rect x="470.5" y="778.3" width="91.5" height="80" rx="2" stroke-width="0.6" stroke="#666"/>
<rect x="474.5" y="781.2" width="76.3" height="75.6" rx="2" stroke-width="0.6" stroke="#666"/>
<rect x="477.4" y="784.9" width="36.7" height="68.9" rx="1.5" stroke-width="0.6" stroke="#666"/>
<rect x="517.1" y="786.4" width="26.2" height="67.4" rx="1.5" stroke-width="0.6" stroke="#666"/>
<rect x="544.8" y="785" width="4.5" height="68.8" rx="1" stroke-width="0.6" stroke="#666"/>
<path d="M517.8 782 L520 779 L539.6 779 L541.8 782 L539.6 785 L520 785 Z" stroke-width="0.6" stroke="#666"/>
<path d="M566 773 L569.5 773 L569.5 781.2 L566 781.2" stroke-width="0.7"/>
<circle cx="568.2" cy="787.9" r="1.9" fill="#fff" stroke-width="0.7"/>
<path d="M565.7 786 L566.5 786" stroke-width="0.6"/>
<!-- airflow arrows -->
<g fill="#fff" stroke="#333" stroke-width="0.7" stroke-linejoin="miter">
<path d="M493.2 801.6 L503.5 805 L502.8 807.3 C512 810.5 519 812.5 527.2 814.3 L526.8 817.8 C518 815.5 509 812 501 809 L500.1 810.5 Z"/>
<path d="M473.5 780.2 C479 789 484 796 489.7 801.2 M477.9 785.5 C482 793 485 798 488.8 802.5" fill="none"/>
<path d="M467.9 781.5 C478 805 497 823 521.1 833.5 M469.6 788 C480 811 498 829 520.2 839.6" fill="none"/>
<path d="M482.3 824.3 L489.7 829.5 L488.8 832.6 C495 838 502 843 509.7 846.6 L508 849.6 C500 845 493 840 487 834.3 L486.2 834.3 Z"/>
<path d="M466.1 790.7 C470 803 475 813 481 821.2 M467 801.2 C470 810 474 817 478.3 822.6" fill="none"/>
<path d="M542.6 809.4 L552.2 808.8 C558 808.5 563 807.5 568 806 L568.7 809.4 C563 811 558 812.5 551.5 813.5 Z"/>
<path d="M542.6 824.8 L552.2 827.3 C558 827.6 563 827.2 568 826.3 L568 830.3 C562 830.8 557 830.9 551.5 830.7 Z"/>
<path d="M532.3 840.3 L542.6 842.6 C552 844.2 560 845.3 568 845.8 L568.7 848.5 C560 848.2 551 847.2 541.3 846.4 Z"/>
</g>
<rect x="465.7" y="789" width="4.3" height="57.6" fill="#fff" stroke="#222" stroke-width="0.8"/>
<!-- lower cabinet -->
<rect x="471.5" y="862" width="90.9" height="47" fill="#d6d6d6" stroke="none"/>
<path d="M463.2 858.5 L565.7 858.5" stroke-width="0.6"/>
<path d="M469 861.2 L565.7 861.2" stroke-width="1.6"/>
<path d="M471.5 861 L471.5 909 M562.4 861 L562.4 909" stroke-width="1.6"/>
<path d="M566.5 861 L566.5 909" stroke-width="0.8"/>
<!-- min 20 dim -->
<g stroke-width="0.6">
<path d="M443.5 663.3 L463.2 663.3 M469.2 663.3 L488.7 663.3"/>
</g>
<path d="M463.2 663.3 L455.2 661.4 L455.2 665.2 Z M469.2 663.3 L477.2 661.4 L477.2 665.2 Z" fill="#000" stroke="none"/>
<!-- zoom lines -->
<path d="M568 759.9 L620.8 735.9 M568 759.9 L620.8 748.9" stroke-width="0.5" stroke="#444"/>
<!-- inset -->
<rect x="620.8" y="710.3" width="118.8" height="133" fill="#fff" stroke="#555" stroke-width="0.9"/>
<rect x="621.8" y="712" width="67" height="38" fill="#d6d6d6" stroke="none"/>
<path d="M689.6 712.6 L689.6 750.3 M696.1 712.6 L696.1 750.3" stroke-width="1.5"/>
<path d="M621.5 750.7 L720.4 750.7" stroke-width="1.5"/>
<path d="M621.5 755.9 L689.6 755.9" stroke-width="1.6"/>
<path d="M689.6 753.4 L720.4 753.4" stroke-width="1.2"/>
<path d="M689.6 753.6 L689.6 795.3 L696.4 795.3 L696.4 753.6" stroke-width="0.9"/>
<path d="M689.6 841.6 L689.6 798.6 L696.4 798.6 L696.4 841.6" stroke-width="0.9"/>
<path d="M696.4 776.4 L703.6 776.4 L703.6 790.6 L696.4 790.6" stroke-width="0.8"/>
<circle cx="704.8" cy="805.9" r="4.2" fill="#fff" stroke-width="0.8"/>
<path d="M696.4 803.5 L700.6 803.5 M696.4 808.3 L700.6 808.3" stroke-width="0.6" stroke="#777"/>
<path d="M689 758.2 L681 758.2 Q678.4 758.2 678.4 761 L678.4 778 Q678.4 780.7 681 780.7 L689 780.7" stroke-width="0.6" stroke="#777"/>
<path d="M621.5 783.4 L689.6 783.4" stroke-width="0.6" stroke="#666"/>
<path d="M621.5 790.7 L689 790.7" stroke-width="0.5" stroke="#aaa"/>
<path d="M621.5 786.5 L641 786.5 Q645 786.5 647 789.5 L650 793 Q652 795 656 795 L664 795 Q667.8 795 667.8 798.5 L667.8 843" stroke-width="0.6" stroke="#777"/>
<path d="M621.5 797 L640 797 Q643.5 797 645 794.5 Q646.5 791.5 643 789.5" stroke-width="0.6" stroke="#777"/>
<path d="M621.5 801 L648 801 Q650.6 801 650.6 804 L650.6 843" stroke-width="0.6" stroke="#777"/>
<path d="M655.2 843 L655.2 801 Q655.2 798 658.8 798 Q662.5 798 662.5 801 L662.5 843" stroke-width="0.6" stroke="#777"/>
<path d="M717.8 734.4 L717.8 750.3 M717.8 753.6 L717.8 773.4" stroke-width="0.6"/>
<path d="M717.8 750.5 L715.8 743.5 L719.8 743.5 Z M717.8 753.5 L715.8 760.5 L719.8 760.5 Z" fill="#000" stroke="none"/>
</g>
<text class="b" x="491.5" y="665" font-size="9.5">min. 20</text>
<text class="b" x="706.8" y="732.2" font-size="9">min. 5</text>

</svg></body></html>
